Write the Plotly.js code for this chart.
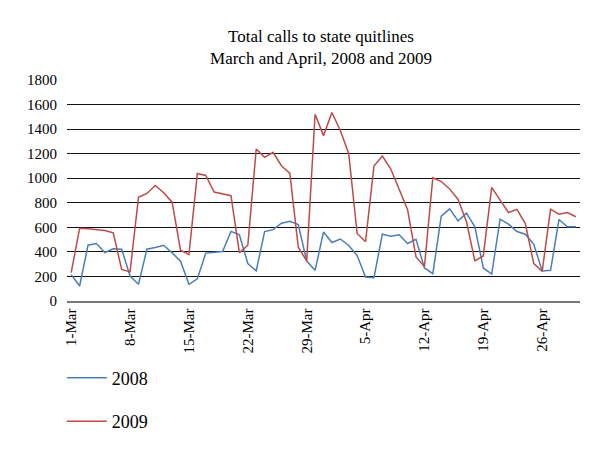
<!DOCTYPE html>
<html>
<head>
<meta charset="utf-8">
<script src="https://cdn.plot.ly/plotly-3.0.1.min.js"></script>
<style>html,body{margin:0;padding:0;background:#fff;}#chart{width:600px;height:451px;}</style>
</head>
<body>
<div id="chart"></div>
<script>
// Category labels: every day of March and April
const monthNames = ['Mar', 'Apr'];
const monthDays = [31, 30];
const days = [];
monthNames.forEach(function (m, k) {
  for (let d = 1; d <= monthDays[k]; d++) days.push(d + '-' + m);
});

const tickLabels = ['1-Mar', '8-Mar', '15-Mar', '22-Mar', '29-Mar', '5-Apr', '12-Apr', '19-Apr', '26-Apr'];

const calls2008 = [215, 122, 454, 468, 395, 425, 422, 203, 136, 422,
  435, 454, 392, 324, 136, 181, 390, 398, 403, 567,
  539, 305, 245, 566, 581, 634, 650, 622, 325, 250,
  562, 476, 505, 452, 370, 196, 190, 544, 528, 539,
  468, 503, 269, 223, 691, 750, 653, 716, 604, 269,
  220, 667, 626, 566, 544, 462, 245, 250, 664, 604, 604];

const calls2009 = [231, 593, 588, 582, 574, 555, 257, 237, 845, 876,
  941, 882, 805, 414, 378, 1039, 1023, 887, 874, 858,
  392, 454, 1238, 1170, 1211, 1102, 1039, 438, 327, 1521,
  1347, 1535, 1389, 1200, 550, 483, 1100, 1180, 1075, 903,
  743, 359, 280, 1004, 973, 913, 827, 645, 327, 367,
  925, 822, 721, 746, 631, 305, 242, 748, 707, 721, 686];

const serif = 'Liberation Serif, Times New Roman, serif';

const traces = [
  {x: days, y: calls2008, type: 'scatter', mode: 'lines', name: '2008',
   legendgroup: 'a', line: {color: '#4a7ebb', width: 1.5}},
  {x: days, y: calls2009, type: 'scatter', mode: 'lines', name: '2009',
   legendgroup: 'b', line: {color: '#be4b48', width: 1.5}}
];

const layout = {
  width: 600, height: 451,
  margin: {l: 67, r: 20, t: 80, b: 150},
  paper_bgcolor: '#fff', plot_bgcolor: '#fff',
  font: {family: serif, color: '#000', size: 15},
  title: {text: 'Total calls to state quitlines<br>March and April, 2008 and 2009',
          font: {family: serif, size: 17, color: '#000'},
          x: 0.535, xanchor: 'center', y: 0.906, yanchor: 'top'},
  xaxis: {type: 'category', tickmode: 'array', tickvals: tickLabels, ticktext: tickLabels,
          tickangle: -90, showgrid: false, showline: true, linecolor: '#777', linewidth: 1.5,
          ticks: '', tickfont: {family: serif, size: 15}, range: [-0.5, 60.5]},
  yaxis: {range: [0, 1800], dtick: 200, showgrid: true, gridcolor: '#111', gridwidth: 1,
          zeroline: false, showline: false, ticks: 'outside', ticklen: 6,
          tickcolor: 'rgba(0,0,0,0)', tickfont: {family: serif, size: 15}},
  showlegend: true,
  legend: {x: -0.01, xanchor: 'left', y: -0.265, yanchor: 'top', xref: 'paper', yref: 'paper',
           itemwidth: 40, font: {family: serif, size: 18}, tracegroupgap: 17,
           bgcolor: 'rgba(0,0,0,0)'}
};

Plotly.newPlot('chart', traces, layout, {displayModeBar: false, staticPlot: true});
</script>
</body>
</html>
